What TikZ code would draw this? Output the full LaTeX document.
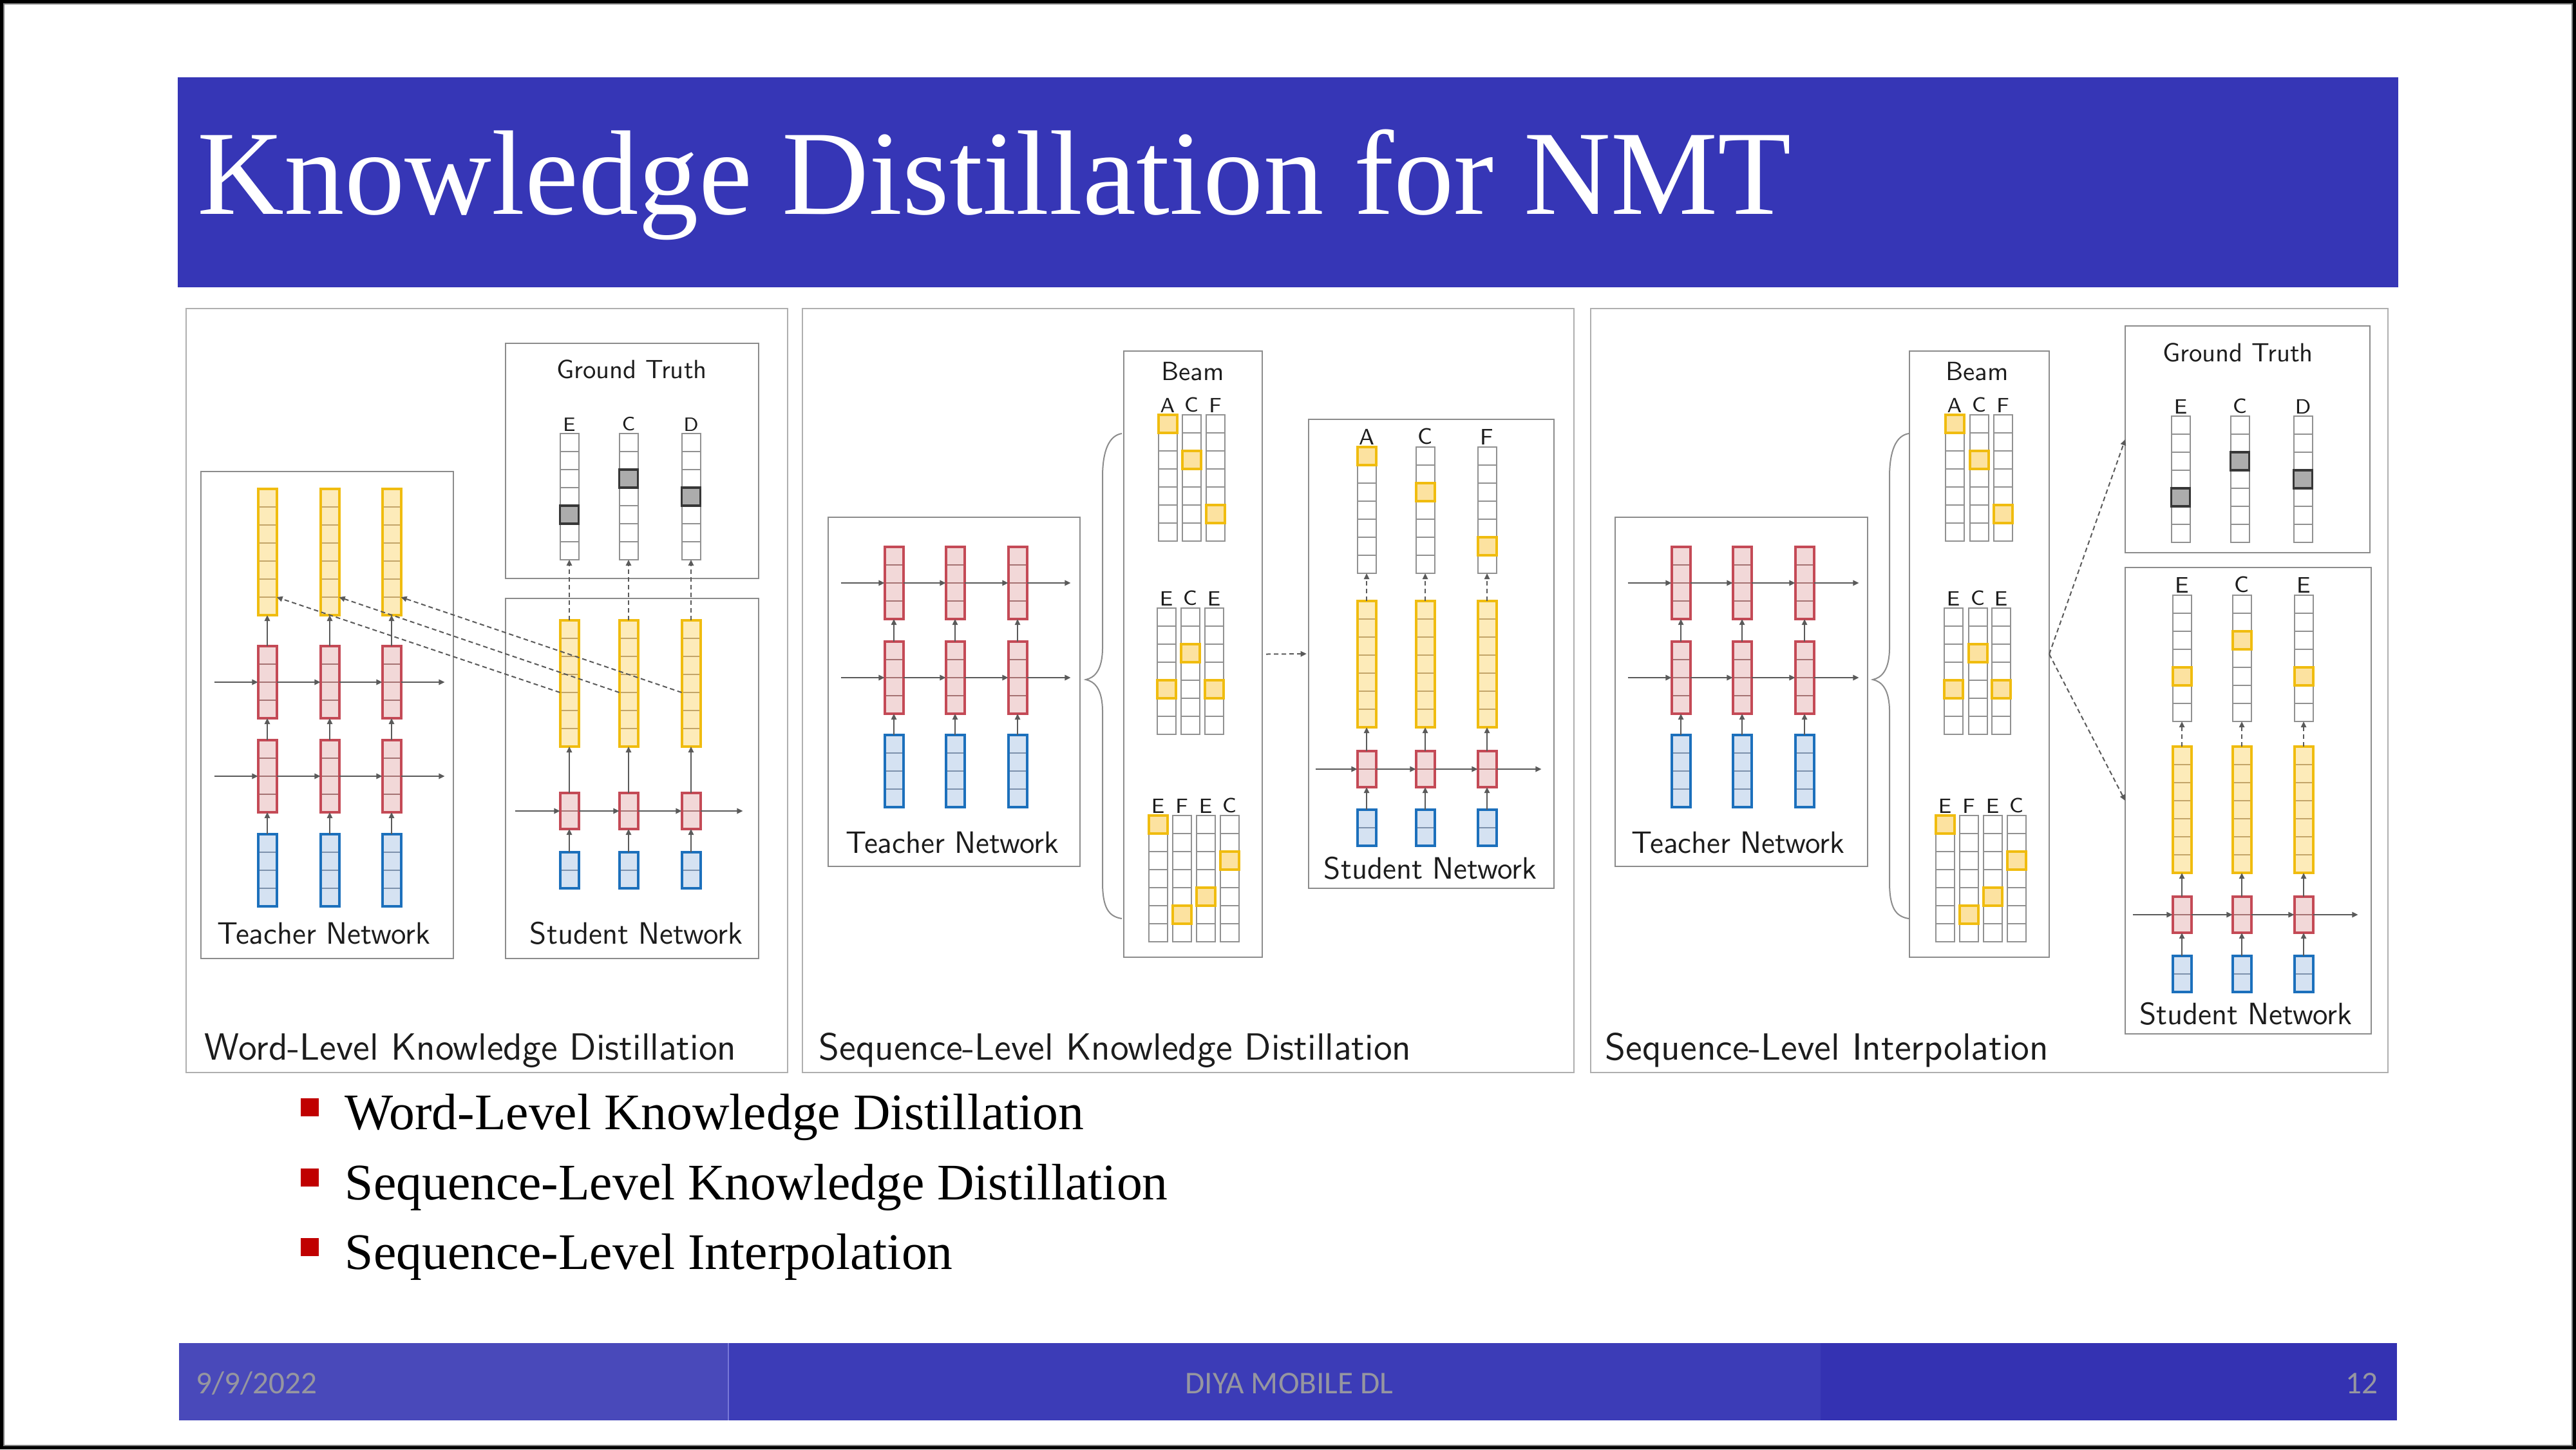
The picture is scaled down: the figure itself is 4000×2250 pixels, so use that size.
\documentclass[tikz,border=0pt]{standalone}
\usepackage{fontspec}
\setmainfont{Liberation Serif}
\newfontfamily\footfont{Carlito}
\usetikzlibrary{arrows.meta,calc}
\definecolor{titleblue}{RGB}{54,54,182}
\definecolor{footA}{RGB}{73,73,186}
\definecolor{footB}{RGB}{60,60,183}
\definecolor{footC}{RGB}{52,50,178}
\definecolor{footdiv}{RGB}{120,120,215}
\definecolor{foottext}{RGB}{150,150,160}
\definecolor{bulletred}{RGB}{192,0,0}
\definecolor{panelgray}{RGB}{175,175,175}
\definecolor{boxgray}{RGB}{140,140,140}
\definecolor{cellgray}{RGB}{145,145,145}
\definecolor{yborder}{RGB}{240,188,15}
\definecolor{yfill}{RGB}{253,235,185}
\definecolor{hyfill}{RGB}{252,226,160}
\definecolor{ylinec}{RGB}{195,165,105}
\definecolor{rborder}{RGB}{196,74,86}
\definecolor{rfill}{RGB}{242,216,216}
\definecolor{rlinec}{RGB}{165,115,115}
\definecolor{bborder}{RGB}{28,112,188}
\definecolor{bfill}{RGB}{213,226,242}
\definecolor{blinec}{RGB}{125,145,172}
\definecolor{hgfill}{RGB}{172,172,172}
\definecolor{hgborder}{RGB}{55,55,55}
\definecolor{arrgray}{RGB}{90,90,90}
\definecolor{txt}{RGB}{28,28,28}

% name, kind (w/y/r/b), x, ytop, number of cells
\newcommand\cellcol[5]{%
  \node[#2col, minimum height=#5*7pt, anchor=north] (#1) at (#3,#4) {};
  \pgfmathtruncatemacro\cellnm{#5-1}%
  \foreach \k in {1,...,\cellnm}{\draw[#2line] ($(#1.north west)+(0,\k*28)$) -- ($(#1.north east)+(0,\k*28)$);}%
}
% style, column, cell index
\newcommand\hlcell[3]{\node[#1, anchor=north] (#2h) at ($(#2.north)+(0,#3*28)$) {};}
% column, letter, style
\newcommand\collab[3]{\node[#3, anchor=south] (#1l) at ($(#1.north)+(0,-3)$) {#2};}
% name, x1, y1, x2, y2
\newcommand\boxnode[5]{\node[box, minimum width=(#4-#2)*0.25pt, minimum height=(#5-#3)*0.25pt, anchor=north west] (#1) at (#2,#3) {};}

\begin{document}
\begin{tikzpicture}[x=0.25pt,y=-0.25pt,
  col/.style={rectangle, inner sep=0pt, outer sep=0pt, minimum width=7.25pt},
  wcol/.style={col, draw=cellgray, fill=white, line width=0.5pt},
  ycol/.style={col, draw=yborder, fill=yfill, line width=1pt},
  rcol/.style={col, draw=rborder, fill=rfill, line width=1pt},
  bcol/.style={col, draw=bborder, fill=bfill, line width=1pt},
  wline/.style={draw=cellgray, line width=0.45pt},
  yline/.style={draw=ylinec, line width=0.45pt, shorten <=0.5pt, shorten >=0.5pt},
  rline/.style={draw=rlinec, line width=0.45pt, shorten <=0.5pt, shorten >=0.5pt},
  bline/.style={draw=blinec, line width=0.45pt, shorten <=0.5pt, shorten >=0.5pt},
  hy/.style={col, minimum height=7pt, draw=yborder, fill=hyfill, line width=1pt},
  hg/.style={col, minimum height=7pt, draw=hgborder, fill=hgfill, line width=0.9pt},
  box/.style={rectangle, inner sep=0pt, outer sep=0pt, draw=boxgray, line width=0.55pt},
  panel/.style={draw=panelgray, line width=0.6pt},
  arr/.style={draw=arrgray, line width=0.5pt, -{Triangle[length=2.3pt,width=2.1pt]}},
  darr/.style={arr, dash pattern=on 1.8pt off 1.2pt},
  lab/.style={font=\sffamily\fontsize{12pt}{13pt}\selectfont, text=txt, inner sep=0pt},
  head/.style={font=\sffamily\fontsize{10.2pt}{11pt}\selectfont, text=txt, inner sep=0pt},
  capt/.style={font=\sffamily\fontsize{14.7pt}{15pt}\selectfont, text=txt, inner sep=0pt, anchor=base west},
  let/.style={font=\sffamily\fontsize{8pt}{9pt}\selectfont, text=txt, inner sep=0pt},
  letsm/.style={font=\sffamily\fontsize{7.5pt}{8pt}\selectfont, text=txt, inner sep=0pt},
  letbig/.style={font=\sffamily\fontsize{8.7pt}{9pt}\selectfont, text=txt, inner sep=0pt},
  bul/.style={font=\fontsize{19.9pt}{22pt}\selectfont, text=black, inner sep=0pt, anchor=base west},
  foot/.style={font=\footfont\fontsize{12.3pt}{13pt}\selectfont, text=foottext, inner sep=0pt},
  brace/.style={draw=boxgray, line width=0.5pt}
]
\useasboundingbox (0,0) rectangle (4000,2250);
% slide frame
\fill[black] (0,0) rectangle (4000,2250);
\fill[white] (6,6) rectangle (3994,2244);
\draw[gray, line width=0.3pt] (6,6) rectangle (3994,2244);

% title bar
\fill[titleblue] (276,120) rectangle (3724,446);
\node[anchor=base west, text=white, inner sep=0pt, font=\fontsize{46.7pt}{50pt}\selectfont] (title) at (306,332) {Knowledge Distillation for NMT};

% ================= Panel 1 =================
\draw[panel] (289,479) rectangle (1223,1665);
\boxnode{T1}{312}{732}{704}{1488}
\boxnode{G1}{785}{533}{1178}{898}
\boxnode{S1}{785}{929}{1178}{1488}
\foreach \i/\x in {1/415,2/512,3/608}{
  \cellcol{t1y\i}{y}{\x}{759}{7}
  \cellcol{t1u\i}{r}{\x}{1003}{4}
  \cellcol{t1l\i}{r}{\x}{1149}{4}
  \cellcol{t1b\i}{b}{\x}{1295}{4}
  \draw[arr] (t1b\i.north) -- (t1l\i.south);
  \draw[arr] (t1l\i.north) -- (t1u\i.south);
  \draw[arr] (t1u\i.north) -- (t1y\i.south);
}
\foreach \r in {u,l}{
  \coordinate (t1\r s) at ($(t1\r1.west)+(-68,0)$);
  \coordinate (t1\r e) at ($(t1\r3.east)+(68,0)$);
  \draw[arr] (t1\r s) -- (t1\r1.west);
  \draw[arr] (t1\r1.east) -- (t1\r2.west);
  \draw[arr] (t1\r2.east) -- (t1\r3.west);
  \draw[arr] (t1\r3.east) -- (t1\r e);
}
\node[lab] (T1l) at (503,1449) {Teacher Network};
\node[head] (G1l) at (981,573) {Ground Truth};
\foreach \i/\x/\lt/\hk in {1/884/E/4,2/976/C/2,3/1073/D/3}{
  \cellcol{g1c\i}{w}{\x}{673}{7}
  \hlcell{hg}{g1c\i}{\hk}
  \collab{g1c\i}{\lt}{letsm}
  \cellcol{s1y\i}{y}{\x}{963}{7}
  \cellcol{s1r\i}{r}{\x}{1231}{2}
  \cellcol{s1b\i}{b}{\x}{1323}{2}
  \draw[arr] (s1b\i.north) -- (s1r\i.south);
  \draw[arr] (s1r\i.north) -- (s1y\i.south);
  \draw[darr] (s1y\i.north) -- (g1c\i.south);
}
\coordinate (s1s) at ($(s1r1.west)+(-70,0)$);
\coordinate (s1e) at ($(s1r3.east)+(66,0)$);
\draw[arr] (s1s) -- (s1r1.west);
\draw[arr] (s1r1.east) -- (s1r2.west);
\draw[arr] (s1r2.east) -- (s1r3.west);
\draw[arr] (s1r3.east) -- (s1e);
\foreach \i in {1,2,3}{
  \draw[darr] ([yshift=-3.5pt]s1y\i.west) -- ([yshift=-17.5pt]t1y\i.east);
}
\node[lab] (S1l) at (988,1449) {Student Network};
\node[capt] (P1c) at (317,1645) {Word-Level Knowledge Distillation};

% ================= Panel 2 =================
\draw[panel] (1246,479) rectangle (2444,1665);
\boxnode{T2}{1286}{803}{1677}{1345}
\boxnode{B2}{1745}{545}{1960}{1486}
\boxnode{S2}{2032}{651}{2413}{1379}
\foreach \i/\x in {1/1388,2/1483,3/1580}{
  \cellcol{t2u\i}{r}{\x}{849}{4}
  \cellcol{t2l\i}{r}{\x}{996}{4}
  \cellcol{t2b\i}{b}{\x}{1141}{4}
  \draw[arr] (t2b\i.north) -- (t2l\i.south);
  \draw[arr] (t2l\i.north) -- (t2u\i.south);
}
\foreach \r in {u,l}{
  \coordinate (t2\r s) at ($(t2\r1.west)+(-68,0)$);
  \coordinate (t2\r e) at ($(t2\r3.east)+(68,0)$);
  \draw[arr] (t2\r s) -- (t2\r1.west);
  \draw[arr] (t2\r1.east) -- (t2\r2.west);
  \draw[arr] (t2\r2.east) -- (t2\r3.west);
  \draw[arr] (t2\r3.east) -- (t2\r e);
}
\node[lab] (T2l) at (1479,1308) {Teacher Network};
\draw[brace] (1742,673) .. controls (1722,676) and (1712,700) .. (1712,740) -- (1712,1005) .. controls (1712,1040) and (1700,1052) .. (1686,1055) .. controls (1700,1058) and (1712,1070) .. (1712,1105) -- (1712,1370) .. controls (1712,1410) and (1722,1423) .. (1742,1426);
\node[head] (B2l) at (1852,577) {Beam};
\foreach \i/\x/\lt/\hk in {1/1813/A/0,2/1850/C/2,3/1887/F/5}{
  \cellcol{b2a\i}{w}{\x}{644}{7}
  \hlcell{hy}{b2a\i}{\hk}
  \collab{b2a\i}{\lt}{let}
}
\foreach \i/\x/\lt/\hk in {1/1811/E/4,2/1848/C/2,3/1885/E/4}{
  \cellcol{b2b\i}{w}{\x}{944}{7}
  \hlcell{hy}{b2b\i}{\hk}
  \collab{b2b\i}{\lt}{let}
}
\foreach \i/\x/\lt/\hk in {1/1798/E/0,2/1835/F/5,3/1872/E/4,4/1909/C/2}{
  \cellcol{b2c\i}{w}{\x}{1266}{7}
  \hlcell{hy}{b2c\i}{\hk}
  \collab{b2c\i}{\lt}{let}
}
\draw[darr] ([xshift=1.5pt]B2.east) -- ([xshift=-0.8pt]S2.west);
\foreach \i/\x/\lt/\hk in {1/2122/A/0,2/2213/C/2,3/2309/F/5}{
  \cellcol{s2w\i}{w}{\x}{694}{7}
  \hlcell{hy}{s2w\i}{\hk}
  \collab{s2w\i}{\lt}{letbig}
  \cellcol{s2y\i}{y}{\x}{933}{7}
  \cellcol{s2r\i}{r}{\x}{1166}{2}
  \cellcol{s2b\i}{b}{\x}{1257}{2}
  \draw[arr] (s2b\i.north) -- (s2r\i.south);
  \draw[arr] (s2r\i.north) -- (s2y\i.south);
  \draw[darr] (s2y\i.north) -- (s2w\i.south);
}
\coordinate (s2s) at ($(s2r1.west)+(-65,0)$);
\coordinate (s2e) at ($(s2r3.east)+(70,0)$);
\draw[arr] (s2s) -- (s2r1.west);
\draw[arr] (s2r1.east) -- (s2r2.west);
\draw[arr] (s2r2.east) -- (s2r3.west);
\draw[arr] (s2r3.east) -- (s2e);
\node[lab] (S2l) at (2221,1348) {Student Network};
\node[capt] (P2c) at (1271,1645) {Sequence-Level Knowledge Distillation};

% ================= Panel 3 =================
\draw[panel] (2470,479) rectangle (3708,1665);
\boxnode{T3}{2508}{803}{2900}{1345}
\boxnode{B3}{2965}{545}{3182}{1486}
\boxnode{G3}{3300}{506}{3680}{858}
\boxnode{S3}{3300}{881}{3682}{1605}
\foreach \i/\x in {1/2610,2/2705,3/2802}{
  \cellcol{t3u\i}{r}{\x}{849}{4}
  \cellcol{t3l\i}{r}{\x}{996}{4}
  \cellcol{t3b\i}{b}{\x}{1141}{4}
  \draw[arr] (t3b\i.north) -- (t3l\i.south);
  \draw[arr] (t3l\i.north) -- (t3u\i.south);
}
\foreach \r in {u,l}{
  \coordinate (t3\r s) at ($(t3\r1.west)+(-68,0)$);
  \coordinate (t3\r e) at ($(t3\r3.east)+(70,0)$);
  \draw[arr] (t3\r s) -- (t3\r1.west);
  \draw[arr] (t3\r1.east) -- (t3\r2.west);
  \draw[arr] (t3\r2.east) -- (t3\r3.west);
  \draw[arr] (t3\r3.east) -- (t3\r e);
}
\node[lab] (T3l) at (2699,1308) {Teacher Network};
\begin{scope}[shift={(1222,0)}]
\draw[brace] (1742,673) .. controls (1722,676) and (1712,700) .. (1712,740) -- (1712,1005) .. controls (1712,1040) and (1700,1052) .. (1686,1055) .. controls (1700,1058) and (1712,1070) .. (1712,1105) -- (1712,1370) .. controls (1712,1410) and (1722,1423) .. (1742,1426);
\end{scope}
\node[head] (B3l) at (3070,577) {Beam};
\foreach \i/\x/\lt/\hk in {1/3035/A/0,2/3073/C/2,3/3110/F/5}{
  \cellcol{b3a\i}{w}{\x}{644}{7}
  \hlcell{hy}{b3a\i}{\hk}
  \collab{b3a\i}{\lt}{let}
}
\foreach \i/\x/\lt/\hk in {1/3033/E/4,2/3071/C/2,3/3107/E/4}{
  \cellcol{b3b\i}{w}{\x}{944}{7}
  \hlcell{hy}{b3b\i}{\hk}
  \collab{b3b\i}{\lt}{let}
}
\foreach \i/\x/\lt/\hk in {1/3020/E/0,2/3057/F/5,3/3094/E/4,4/3131/C/2}{
  \cellcol{b3c\i}{w}{\x}{1266}{7}
  \hlcell{hy}{b3c\i}{\hk}
  \collab{b3c\i}{\lt}{let}
}
\node[head] (G3l) at (3475,547) {Ground Truth};
\foreach \i/\x/\lt/\hk in {1/3386/E/4,2/3478/C/2,3/3576/D/3}{
  \cellcol{g3c\i}{w}{\x}{646}{7}
  \hlcell{hg}{g3c\i}{\hk}
  \collab{g3c\i}{\lt}{let}
}
\foreach \i/\x/\lt/\hk in {1/3388/E/4,2/3481/C/2,3/3577/E/4}{
  \cellcol{s3w\i}{w}{\x}{924}{7}
  \hlcell{hy}{s3w\i}{\hk}
  \collab{s3w\i}{\lt}{letbig}
  \cellcol{s3y\i}{y}{\x}{1159}{7}
  \cellcol{s3r\i}{r}{\x}{1392}{2}
  \cellcol{s3b\i}{b}{\x}{1484}{2}
  \draw[arr] (s3b\i.north) -- (s3r\i.south);
  \draw[arr] (s3r\i.north) -- (s3y\i.south);
  \draw[darr] (s3y\i.north) -- (s3w\i.south);
}
\coordinate (s3s) at ($(s3r1.west)+(-62,0)$);
\coordinate (s3e) at ($(s3r3.east)+(70,0)$);
\draw[arr] (s3s) -- (s3r1.west);
\draw[arr] (s3r1.east) -- (s3r2.west);
\draw[arr] (s3r2.east) -- (s3r3.west);
\draw[arr] (s3r3.east) -- (s3e);
\draw[darr] (B3.east) -- (G3.west);
\draw[darr] (B3.east) -- (S3.west);
\node[lab] (S3l) at (3487,1574) {Student Network};
\node[capt] (P3c) at (2492,1645) {Sequence-Level Interpolation};

% ================= Bullets =================
\fill[bulletred] (467,1705) rectangle (495,1733);
\fill[bulletred] (467,1814) rectangle (495,1842);
\fill[bulletred] (467,1922) rectangle (495,1950);
\node[bul] (b1) at (535,1753) {Word-Level Knowledge Distillation};
\node[bul] (b2) at (535,1862) {Sequence-Level Knowledge Distillation};
\node[bul] (b3) at (535,1970) {Sequence-Level Interpolation};

% ================= Footer =================
\fill[footA] (278,2085) rectangle (1130,2205);
\fill[footB] (1130,2085) rectangle (2827,2205);
\fill[footC] (2827,2085) rectangle (3722,2205);
\draw[footdiv, line width=0.5pt] (1131,2085) -- (1131,2205);
\node[foot, anchor=base west] (fdate) at (304,2163) {9/9/2022};
\node[foot, anchor=base] (fmid) at (2002,2163) {DIYA MOBILE DL};
\node[foot, anchor=base east] (fnum) at (3693,2163) {12};
\end{tikzpicture}
\end{document}
